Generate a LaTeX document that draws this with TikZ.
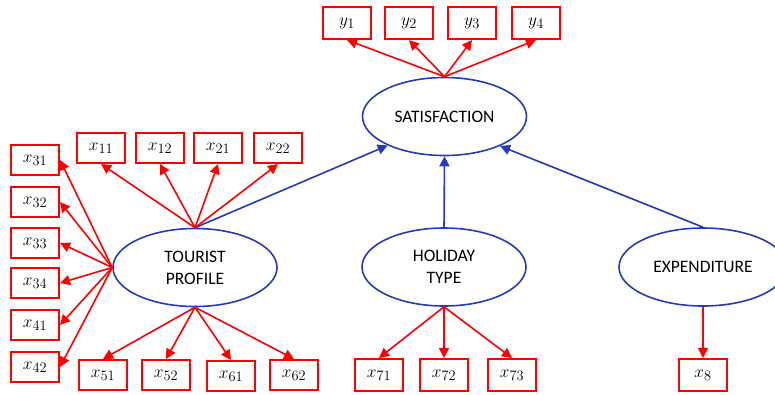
\documentclass[tikz,border=0pt]{standalone}
\usepackage{fontspec}
\setmainfont{Carlito}
\usetikzlibrary{arrows.meta,shapes.geometric}
\definecolor{semblue}{RGB}{35,60,190}
\definecolor{semred}{RGB}{255,0,0}
\tikzset{
  obs/.style={draw=semred, line width=2pt, minimum width=48pt, minimum height=30pt, inner sep=0pt, font=\fontsize{19}{21}\selectfont},
  lat/.style={draw=semblue, line width=1.6pt, ellipse, minimum width=164pt, minimum height=78pt, inner sep=0pt, align=center, font=\fontsize{17.5}{22}\selectfont},
  load/.style={draw=semred, line width=1.6pt, -{Triangle[length=10pt,width=10pt]}},
  path/.style={draw=semblue, line width=1.6pt, -{Triangle[length=10pt,width=10pt]}},
}
\begin{document}
\begin{tikzpicture}[x=1pt,y=-1pt]
\useasboundingbox (0,0) rectangle (775,394);
% latent variables
\node[lat] (sat) at (444.5,116.5) {SATISFACTION};
\node[lat] (tp) at (195,267.5) {TOURIST\\PROFILE};
\node[lat] (ht) at (444,267) {HOLIDAY\\TYPE};
\node[lat, minimum width=168pt] (ex) at (703,267) {EXPENDITURE};
% y indicators
\node[obs, minimum height=32pt] (y1) at (347,23) {$y_1$};
\node[obs, minimum height=32pt] (y2) at (409,23) {$y_2$};
\node[obs, minimum height=32pt] (y3) at (472,23) {$y_3$};
\node[obs, minimum height=32pt] (y4) at (536,23) {$y_4$};
% top row
\node[obs] (x11) at (101,148) {$x_{11}$};
\node[obs] (x12) at (160,148) {$x_{12}$};
\node[obs] (x21) at (218,148) {$x_{21}$};
\node[obs] (x22) at (278,148) {$x_{22}$};
% left column
\node[obs] (x31) at (35,160) {$x_{31}$};
\node[obs] (x32) at (35,202) {$x_{32}$};
\node[obs] (x33) at (35,243) {$x_{33}$};
\node[obs] (x34) at (35,283) {$x_{34}$};
\node[obs] (x41) at (35,325) {$x_{41}$};
\node[obs] (x42) at (35,367) {$x_{42}$};
% bottom row
\node[obs] (x51) at (103,375) {$x_{51}$};
\node[obs] (x52) at (166,375) {$x_{52}$};
\node[obs] (x61) at (231,376) {$x_{61}$};
\node[obs] (x62) at (294,375) {$x_{62}$};
\node[obs, minimum height=32pt] (x71) at (379,375) {$x_{71}$};
\node[obs, minimum height=32pt] (x72) at (444,375) {$x_{72}$};
\node[obs, minimum height=32pt] (x73) at (512,375) {$x_{73}$};
\node[obs, minimum height=32pt] (x8) at (703,375) {$x_{8}$};
% structural paths
\draw[path] (tp.north) -- (sat.-153);
\draw[path] (ht.north) -- (sat.south);
\draw[path] (ex.north) -- (sat.-28);
% loadings
\foreach \t in {y1,y2,y3,y4} \draw[load] (sat.north) -- (\t.south);
\foreach \t in {x11,x12,x21,x22} \draw[load] (tp.north) -- (\t.south);
\foreach \t in {x31,x32,x33,x34,x41,x42} \draw[load] (tp.west) -- (\t.east);
\foreach \t in {x51,x52,x61,x62} \draw[load] (tp.south) -- (\t.north);
\foreach \t in {x71,x72,x73} \draw[load] (ht.south) -- (\t.north);
\draw[load] (ex.south) -- (x8.north);
\end{tikzpicture}
\end{document}
